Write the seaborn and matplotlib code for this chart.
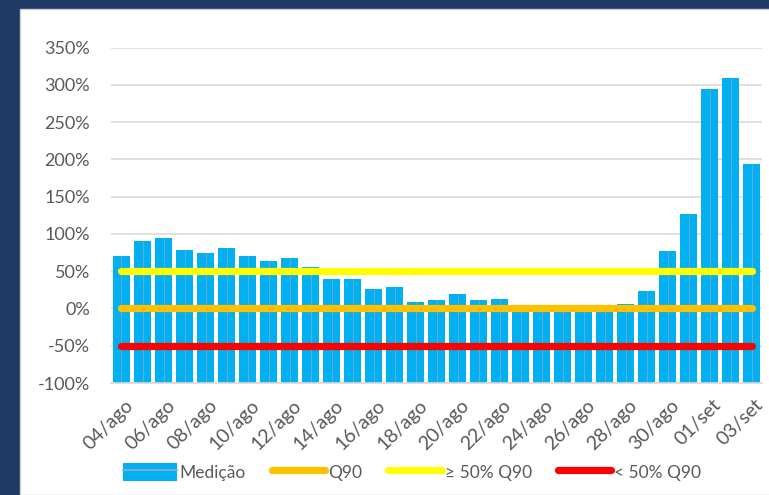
import numpy as np
import pandas as pd
import matplotlib
matplotlib.use("Agg")
import matplotlib.pyplot as plt
from matplotlib.patches import Rectangle, Patch
from matplotlib.lines import Line2D
from matplotlib.legend_handler import HandlerTuple
from matplotlib.transforms import ScaledTranslation
import seaborn as sns

# ---------------- data ----------------
dates = ['04/ago', '05/ago', '06/ago', '07/ago', '08/ago', '09/ago', '10/ago',
         '11/ago', '12/ago', '13/ago', '14/ago', '15/ago', '16/ago', '17/ago',
         '18/ago', '19/ago', '20/ago', '21/ago', '22/ago', '23/ago', '24/ago',
         '25/ago', '26/ago', '27/ago', '28/ago', '29/ago', '30/ago', '31/ago',
         '01/set', '02/set', '03/set']
medicao = [71, 90, 94, 79, 74, 81, 70, 64, 67, 56, 39, 40, 26, 29, 9, 11, 20,
           11, 12, 3, 1, 0, -1, 2, 6, 23, 77, 127, 295, 309, 194]
q90_level = 0
high_level = 50
low_level = -50
y_ticks = [-100, -50, 0, 50, 100, 150, 200, 250, 300, 350]
legend_labels = ['Medição', 'Q90', '≥ 50% Q90', '< 50% Q90']

# ---------------- style ----------------
sns.set_theme(style="white")
plt.rcParams['font.family'] = ['Lato', 'DejaVu Sans']
TXT = '#595959'
GRID = '#D9D9D9'
BAR = '#00B0F0'
ORANGE = '#FFC000'
YELLOW = '#FFFF00'
RED = '#FF0000'
BASE = -100

fig = plt.figure(figsize=(7.69, 4.95), dpi=100)
fig.patch.set_facecolor('#203864')
# white panel
fig.patches.append(Rectangle((20 / 769, 0), 1, 1 - 9 / 495, transform=fig.transFigure,
                             facecolor='white', edgecolor='#D0D0D0', linewidth=1.0,
                             zorder=-5))

ax = fig.add_axes([111 / 769, 1 - 383 / 495, 651 / 769, (383 - 47.5) / 495])
ax.set_facecolor('none')

df = pd.DataFrame({'data': dates, 'medicao': medicao})
df['altura'] = df['medicao'] - BASE

sns.barplot(data=df, x='data', y='altura', color=BAR, saturation=1, width=0.77,
            bottom=BASE, ax=ax, zorder=2, linewidth=0)

xpos = np.arange(len(dates))
ax.vlines(xpos, BASE, df['medicao'], color='#7FA7CF', linewidth=0.6, zorder=2.5)

for lvl, col in [(high_level, YELLOW), (q90_level, ORANGE), (low_level, RED)]:
    sns.lineplot(x=xpos, y=[lvl] * len(dates), color=col, linewidth=5.2,
                 solid_capstyle='round', ax=ax, zorder=3)

ax.set_xlim(-0.5, len(dates) - 0.5)
ax.set_ylim(-100, 350)
ax.set_yticks(y_ticks)
ax.set_yticklabels([f'{v}%' for v in y_ticks], color=TXT, fontsize=13)
ax.yaxis.grid(True, color=GRID, linewidth=1.2, zorder=0)
ax.set_axisbelow(True)

ax.set_xticks(xpos[::2])
ax.set_xticklabels(dates[::2], rotation=45, ha='right', va='center',
                   rotation_mode='anchor', color=TXT, fontsize=14)
ax.set_xticks(np.arange(-0.5, len(dates), 2), minor=True)
ax.tick_params(axis='x', which='major', length=0, pad=14)
ax.tick_params(axis='x', which='minor', length=6, color=GRID, width=1.2, direction='out')
ax.tick_params(axis='y', length=0, pad=15)
shift = ScaledTranslation(9 / 100, 0, fig.dpi_scale_trans)
for lab in ax.get_xticklabels():
    lab.set_transform(lab.get_transform() + shift)
ax.set_xlabel('')
ax.set_ylabel('')
for s in ['top', 'right', 'left']:
    ax.spines[s].set_visible(False)
ax.spines['bottom'].set_color(GRID)
ax.spines['bottom'].set_linewidth(1.2)
ax.spines['bottom'].set_zorder(4)

handles = [
    (Patch(facecolor=BAR, edgecolor=BAR, linewidth=0),
     Line2D([], [], color='#7FA7CF', linewidth=1.5)),
    Line2D([], [], color=ORANGE, linewidth=5.2, solid_capstyle='round'),
    Line2D([], [], color=YELLOW, linewidth=5.2, solid_capstyle='round'),
    Line2D([], [], color=RED, linewidth=5.2, solid_capstyle='round'),
]
leg = fig.legend(handles, legend_labels, loc='center', bbox_to_anchor=(412 / 769, 1 - 472 / 495),
                 ncol=4, frameon=False, fontsize=12.5, handlelength=3.1, handleheight=1.2,
                 handletextpad=0.15, columnspacing=1.5,
                 handler_map={tuple: HandlerTuple(ndivide=1, pad=0)})
for t in leg.get_texts():
    t.set_color(TXT)

fig.savefig('out.png', dpi=100, facecolor=fig.get_facecolor())
